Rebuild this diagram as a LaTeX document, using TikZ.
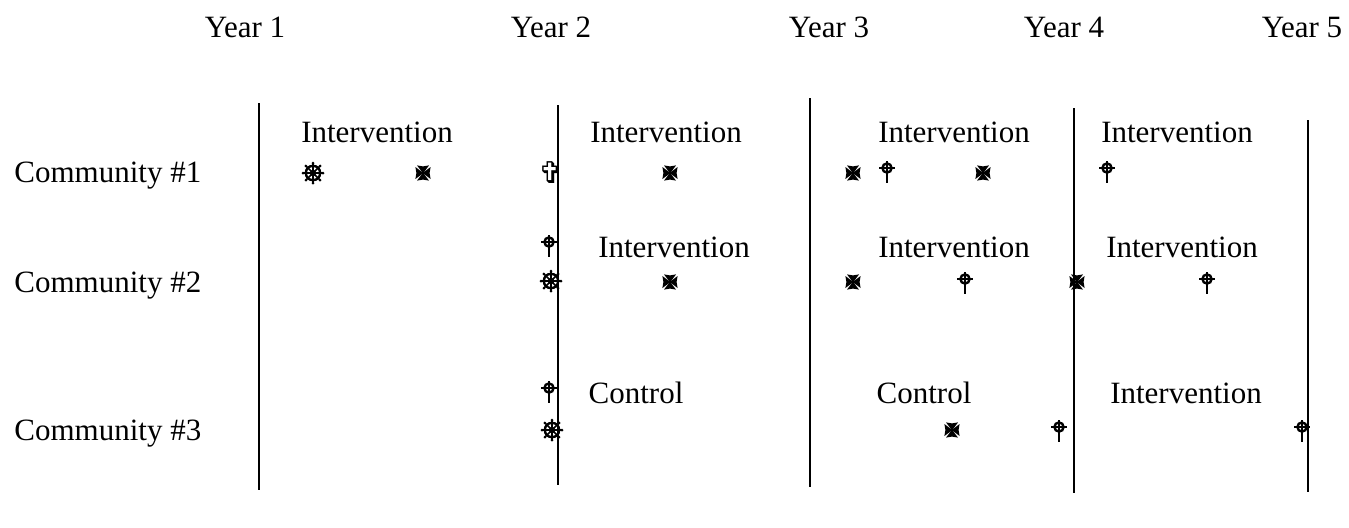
\documentclass[tikz,border=0pt]{standalone}
\usepackage{fontspec}
\setmainfont{Liberation Serif}
\newfontfamily\symfont{DejaVu Sans Bold}

\begin{document}
\begin{tikzpicture}[x=0.5pt,y=-0.5pt]
	% Styles for texts, lines and symbols
	\tikzset{
		yeartext/.style={font=\fontsize{15.5}{18}\selectfont, anchor=base, inner sep=0pt},
		phasetext/.style={font=\fontsize{15.5}{18}\selectfont, anchor=base, inner sep=0pt},
		community/.style={font=\fontsize{15.5}{18}\selectfont, anchor=base west, inner sep=0pt},
		divider/.style={line width=1pt},
		% wheel: ring, hub and eight spokes with knobs
		wheel/.style={rectangle, inner sep=0pt, minimum size=12pt,
			path picture={
				\begin{scope}[shift={(path picture bounding box.center)}, x=1pt, y=1pt]
					\draw[line width=1.2pt] (0,0) circle (3.6pt);
					\draw[line width=0.8pt] (0,0) circle (1.2pt);
					\foreach \a in {0,45,...,315} {
						\draw[line width=0.8pt] (0,0) -- (\a:5);
						\fill (\a:5) circle (0.75pt);
					}
				\end{scope}
		}},
		% maltese: four widening arms
		maltese/.style={rectangle, inner sep=0pt, minimum size=9pt,
			path picture={
				\begin{scope}[shift={(path picture bounding box.center)}, x=1pt, y=1pt]
					\fill (-0.6,-0.6) rectangle (0.6,0.6);
					\fill (-0.6,0.6) -- (-3.0,3.8) -- (0,3.3) -- (3.0,3.8) -- (0.6,0.6) -- cycle;
					\fill (-0.6,-0.6) -- (-3.0,-3.8) -- (0,-3.3) -- (3.0,-3.8) -- (0.6,-0.6) -- cycle;
					\fill (0.6,-0.6) -- (3.8,-3.0) -- (3.3,0) -- (3.8,3.0) -- (0.6,0.6) -- cycle;
					\fill (-0.6,-0.6) -- (-3.8,-3.0) -- (-3.3,0) -- (-3.8,3.0) -- (-0.6,0.6) -- cycle;
				\end{scope}
		}},
		latincross/.style={font=\symfont\fontsize{15}{15}\selectfont, inner sep=0pt},
		celtic/.style={rectangle, inner sep=0pt, minimum width=10pt, minimum height=17pt,
			path picture={
				\draw[line width=1.2pt] (path picture bounding box.center) circle (2.3pt);
				\draw[line width=1.2pt] ([xshift=-4pt]path picture bounding box.center) -- ([xshift=4pt]path picture bounding box.center);
				\draw[line width=1.2pt] ([yshift=3.5pt]path picture bounding box.center) -- ([yshift=-7.5pt]path picture bounding box.center);
		}}
	}
	\useasboundingbox (0,0) rectangle (1349,527);
	
	% Year labels on top
	\foreach \x/\n in {245/1,551/2,829/3,1064/4,1302/5}
		\node[yeartext] (year\n) at (\x,37) {Year \n};
	
	% Vertical lines between the years
	\foreach \i/\x/\t/\b in {1/259/103/490, 2/558/105/485, 3/810/98/487, 4/1074/108/493, 5/1308/120/492} {
		\coordinate (top\i) at (\x,\t);
		\coordinate (bot\i) at (\x,\b);
		\draw[divider] (top\i) -- (bot\i);
	}
	
	% Community names
	\foreach \r/\y in {1/182,2/292,3/440}
		\node[community] (comm\r) at (14,\y) {Community \#\r};
	
	% Phase labels
	\foreach \n/\x/\y/\t in {a1/377/142/Intervention, b1/666/142/Intervention, c1/954/142/Intervention, d1/1177/142/Intervention,
		b2/674/257/Intervention, c2/954/257/Intervention, d2/1182/257/Intervention,
		b3/636/403/Control, c3/924/403/Control, d3/1186/403/Intervention}
		\node[phasetext] (phase\n) at (\x,\y) {\t};
	
	% Symbols
	\foreach \n/\x/\y in {a/313/173, b/551/281, c/552/430}
		\node[wheel] (wheel\n) at (\x,\y) {};
	\foreach \n/\x/\y in {a/423/173, b/670/173, c/853/173, d/983/173, e/670/282, f/853/282, g/1077/282, h/952/430}
		\node[maltese] (maltese\n) at (\x,\y) {};
	\node[latincross] (latina) at (551,173) {✞};
	\foreach \n/\x/\y in {a/887/168, b/1107/168, c/549/242, d/965/279, e/1207/279, f/549/388, g/1059/427, h/1302/427}
		\node[celtic] (celtic\n) at (\x,\y) {};
\end{tikzpicture}
\end{document}
